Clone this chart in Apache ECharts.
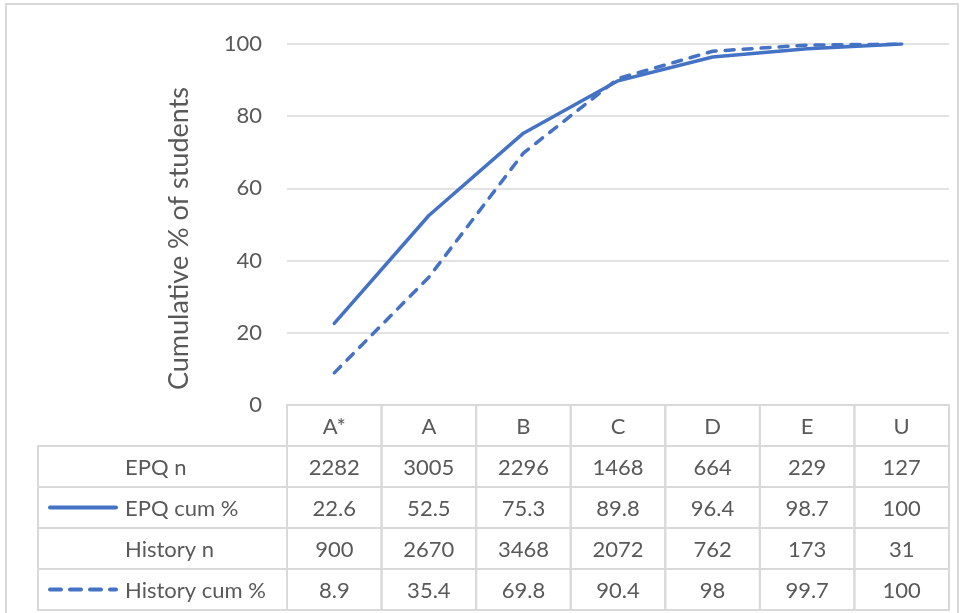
<!DOCTYPE html>
<html>
<head>
<meta charset="utf-8">
<script src="https://cdn.jsdelivr.net/npm/echarts@6/dist/echarts.min.js"></script>
<style>
  html, body { margin: 0; padding: 0; background: #fff; }
  #chart { width: 960px; height: 613px; }
</style>
</head>
<body>
<div id="chart"></div>
<script>
const categories = ['A*', 'A', 'B', 'C', 'D', 'E', 'U'];
const epqN = [2282, 3005, 2296, 1468, 664, 229, 127];
const epqCum = [22.6, 52.5, 75.3, 89.8, 96.4, 98.7, 100];
const historyN = [900, 2670, 3468, 2072, 762, 173, 31];
const historyCum = [8.9, 35.4, 69.8, 90.4, 98, 99.7, 100];
const rowLabels = ['EPQ n', 'EPQ cum %', 'History n', 'History cum %'];
const yTicks = [0, 20, 40, 60, 80, 100];

const FONT = 'Lato, "Open Sans", sans-serif';
const TXT = '#595959';
const BORDER = '#d9d9d9';
const BLUE = '#4472C4';

// table cells (col, row) -> text
const rowsData = [categories, epqN, epqCum, historyN, historyCum];
const cellData = [];
const cellText = [];
rowsData.forEach((row, j) => {
  row.forEach((v, i) => {
    cellData.push([i, j]);
    cellText.push(String(v));
  });
});
const labelData = rowLabels.map((l, j) => [0, j]);

const chart = echarts.init(document.getElementById('chart'));
chart.setOption({
  animation: false,
  backgroundColor: '#fff',
  graphic: [{
    type: 'rect', silent: true,
    shape: { x: 6, y: 4, width: 952, height: 612 },
    style: { fill: 'none', stroke: BORDER, lineWidth: 2 }
  }],
  grid: [
    { left: 287, top: 44, width: 662, height: 361 },
    { left: 287, top: 405, width: 662, height: 205 },
    { left: 38, top: 446, width: 249, height: 164 }
  ],
  xAxis: [
    { gridIndex: 0, type: 'category', data: categories, boundaryGap: true,
      axisLine: { show: false }, axisTick: { show: false }, axisLabel: { show: false } },
    { gridIndex: 1, type: 'category', data: categories, boundaryGap: true, show: false },
    { gridIndex: 2, type: 'category', data: ['label'], boundaryGap: true, show: false }
  ],
  yAxis: [
    { gridIndex: 0, type: 'value', min: yTicks[0], max: yTicks[yTicks.length - 1], interval: 20,
      name: 'Cumulative % of students', nameLocation: 'middle', nameGap: 94,
      nameTextStyle: { fontFamily: FONT, fontSize: 27, color: TXT, padding: [0, 28, 0, 0] },
      axisLine: { show: false }, axisTick: { show: false },
      axisLabel: { fontFamily: FONT, fontSize: 22, color: TXT, margin: 25 },
      splitLine: { lineStyle: { color: BORDER, width: 1.5 } } },
    { gridIndex: 1, type: 'category', data: ['header'].concat(rowLabels), inverse: true, show: false },
    { gridIndex: 2, type: 'category', data: rowLabels, inverse: true, show: false }
  ],
  series: [
    { name: 'EPQ cum %', type: 'line', xAxisIndex: 0, yAxisIndex: 0, data: epqCum,
      symbol: 'none', lineStyle: { color: BLUE, width: 3.5, cap: 'round', join: 'round' } },
    { name: 'History cum %', type: 'line', xAxisIndex: 0, yAxisIndex: 0, data: historyCum,
      symbol: 'none', lineStyle: { color: BLUE, width: 3.5, type: [9, 9], cap: 'round', join: 'round' } },
    { type: 'custom', xAxisIndex: 1, yAxisIndex: 1, data: cellData, silent: true,
      renderItem: function (params, api) {
        const c = api.coord([api.value(0), api.value(1)]);
        const s = api.size([1, 1]);
        return { type: 'group', children: [
          { type: 'rect', shape: { x: c[0] - s[0] / 2, y: c[1] - s[1] / 2, width: s[0], height: s[1] },
            style: { fill: 'none', stroke: BORDER, lineWidth: 2 } },
          { type: 'text', style: { text: cellText[params.dataIndex], x: c[0], y: c[1] + 1,
            align: 'center', verticalAlign: 'middle', fill: TXT, font: '22px ' + FONT } }
        ] };
      } },
    { type: 'custom', xAxisIndex: 2, yAxisIndex: 2, data: labelData, silent: true,
      renderItem: function (params, api) {
        const c = api.coord([api.value(0), api.value(1)]);
        const s = api.size([1, 1]);
        const x0 = c[0] - s[0] / 2;
        const children = [
          { type: 'rect', shape: { x: x0, y: c[1] - s[1] / 2, width: s[0], height: s[1] },
            style: { fill: 'none', stroke: BORDER, lineWidth: 2 } },
          { type: 'text', style: { text: rowLabels[params.dataIndex], x: x0 + 87, y: c[1] + 1,
            align: 'left', verticalAlign: 'middle', fill: TXT, font: '22px ' + FONT } }
        ];
        if (params.dataIndex === 1 || params.dataIndex === 3) {
          children.push({ type: 'line', shape: { x1: x0 + 12, y1: c[1], x2: x0 + 78, y2: c[1] },
            style: { stroke: BLUE, lineWidth: 4, lineCap: 'round',
              lineDash: params.dataIndex === 3 ? [11, 9] : null } });
        }
        return { type: 'group', children: children };
      } }
  ]
});
</script>
</body>
</html>
